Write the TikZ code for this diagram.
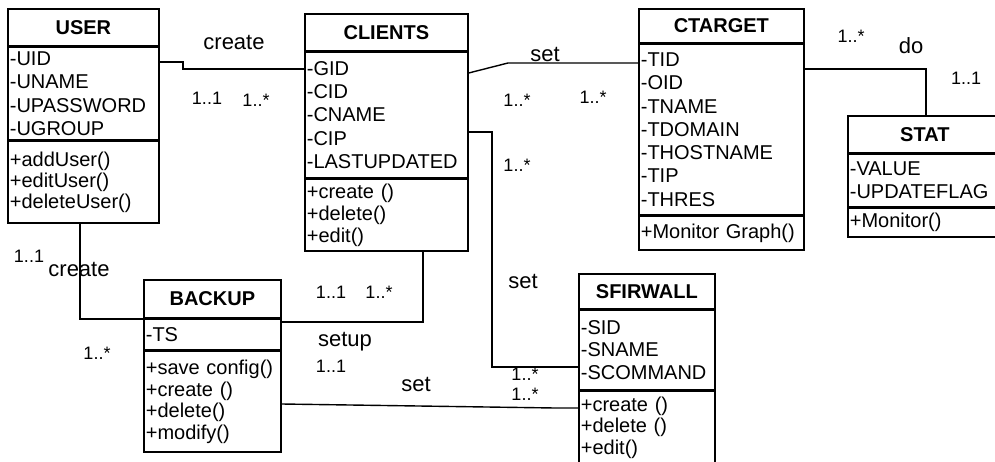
\documentclass[tikz,border=0pt]{standalone}
\usepackage{fontspec}
\setmainfont{Liberation Sans}
\begin{document}
\begin{tikzpicture}[x=1pt,y=-1pt,
  box/.style={draw, line width=1.7pt, anchor=north west, inner xsep=2pt, inner ysep=0pt, align=left},
  hdr/.style={draw, line width=1.7pt, anchor=north west, inner sep=0pt, font=\fontsize{20}{23}\selectfont\bfseries},
  conn/.style={line width=1.4pt},
  lbl/.style={inner sep=0pt, font=\fontsize{22}{24}\selectfont},
  mult/.style={inner sep=0pt, font=\fontsize{18}{20}\selectfont}]
\clip (0,0) rectangle (995,462);

% USER
\node[hdr, minimum width=151pt, minimum height=37pt] (user) at (7,8) {USER};
\node[box, text width=147pt, minimum height=92pt, font=\fontsize{20}{23.5}\selectfont] (userA) at (user.south west) {-UID\\-UNAME\\-UPASSWORD\\-UGROUP};
\node[box, text width=147pt, minimum height=82pt, font=\fontsize{20}{21}\selectfont] (userM) at (userA.south west) {+addUser()\\+editUser()\\+deleteUser()};

% CLIENTS
\node[hdr, minimum width=163pt, minimum height=37pt] (clients) at (304,13) {CLIENTS};
\node[box, text width=159pt, minimum height=125pt, font=\fontsize{20}{23.2}\selectfont] (clientsA) at (clients.south west) {-GID\\-CID\\-CNAME\\-CIP\\-LASTUPDATED};
\node[box, text width=159pt, minimum height=72pt, font=\fontsize{20}{22}\selectfont] (clientsM) at (clientsA.south west) {+create ()\\+delete()\\+edit()};

% CTARGET
\node[hdr, minimum width=165pt, minimum height=34pt] (ctarget) at (638,8) {CTARGET};
\node[box, text width=161pt, minimum height=170pt, font=\fontsize{20}{23.3}\selectfont] (ctargetA) at (ctarget.south west) {-TID\\-OID\\-TNAME\\-TDOMAIN\\-THOSTNAME\\-TIP\\-THRES};
\node[box, text width=161pt, minimum height=34pt, font=\fontsize{20}{22}\selectfont] (ctargetM) at (ctargetA.south west) {+Monitor Graph()};

% STAT
\node[hdr, minimum width=154pt, minimum height=37pt] (stat) at (847,115) {STAT};
\node[box, text width=150pt, minimum height=52pt, font=\fontsize{20}{23}\selectfont] (statA) at (stat.south west) {-VALUE\\-UPDATEFLAG};
\node[box, text width=150pt, minimum height=29pt, font=\fontsize{20}{22}\selectfont] (statM) at (statA.south west) {+Monitor()};

% BACKUP
\node[hdr, minimum width=137pt, minimum height=38pt] (backup) at (143,279) {BACKUP};
\node[box, text width=133pt, minimum height=30pt, font=\fontsize{20}{22}\selectfont] (backupA) at (backup.south west) {-TS};
\node[box, text width=133pt, minimum height=101pt, font=\fontsize{20}{21.5}\selectfont] (backupM) at (backupA.south west) {+save config()\\+create ()\\+delete()\\+modify()};

% SFIRWALL
\node[hdr, minimum width=136pt, minimum height=35pt] (sfir) at (578,273) {SFIRWALL};
\node[box, text width=132pt, minimum height=79pt, font=\fontsize{20}{22.5}\selectfont] (sfirA) at (sfir.south west) {-SID\\-SNAME\\-SCOMMAND};
\node[box, text width=132pt, minimum height=73pt, font=\fontsize{20}{21.5}\selectfont] (sfirM) at (sfirA.south west) {+create ()\\+delete ()\\+edit()};

% connectors
\draw[conn] (userA.east |- 0,62) -- (183,62) -- (183,69) -- (clientsA.west |- 0,69);
\draw[conn] (clientsA.east |- 0,73) -- (508,63) -- (ctargetA.west |- 0,63);
\draw[conn] (ctargetA.east |- 0,69) -- (926,69) -- (926,0 |- stat.north);
\draw[conn] (clientsA.east |- 0,132) -- (492,132) -- (492,367) -- (sfirA.west |- 0,367);
\draw[conn] (80,0 |- userM.south) -- (80,319) -- (backupA.west |- 0,319);
\draw[conn] (423,0 |- clientsM.south) -- (423,322) -- (backupA.east |- 0,322);
\draw[conn] (backupM.east |- 0,404) -- (555,408) -- (sfirM.west |- 0,408);

% labels
\node[lbl] (l1) at (234,42) {create};
\node[mult] (m1) at (207,98) {1..1};
\node[mult] (m2) at (256,100) {1..*};
\node[lbl] (l2) at (545,54) {set};
\node[mult] (m3) at (517,100) {1..*};
\node[mult] (m4) at (593,97) {1..*};
\node[mult] (m5) at (517,165) {1..*};
\node[mult] (m6) at (851,36) {1..*};
\node[lbl] (l3) at (911,46) {do};
\node[mult] (m7) at (966,78) {1..1};
\node[lbl] (l4) at (523,281) {set};
\node[mult] (m8) at (331,292) {1..1};
\node[mult] (m9) at (379,292) {1..*};
\node[lbl] (l5) at (345,342) {setup};
\node[mult] (m10) at (331,366) {1..1};
\node[lbl] (l6) at (416,384) {set};
\node[mult] (m11) at (525,374) {1..*};
\node[mult] (m12) at (525,394) {1..*};
\node[mult] (m13) at (29,256) {1..1};
\node[lbl] (l7) at (79,269) {create};
\node[mult] (m14) at (97,353) {1..*};
\end{tikzpicture}
\end{document}
